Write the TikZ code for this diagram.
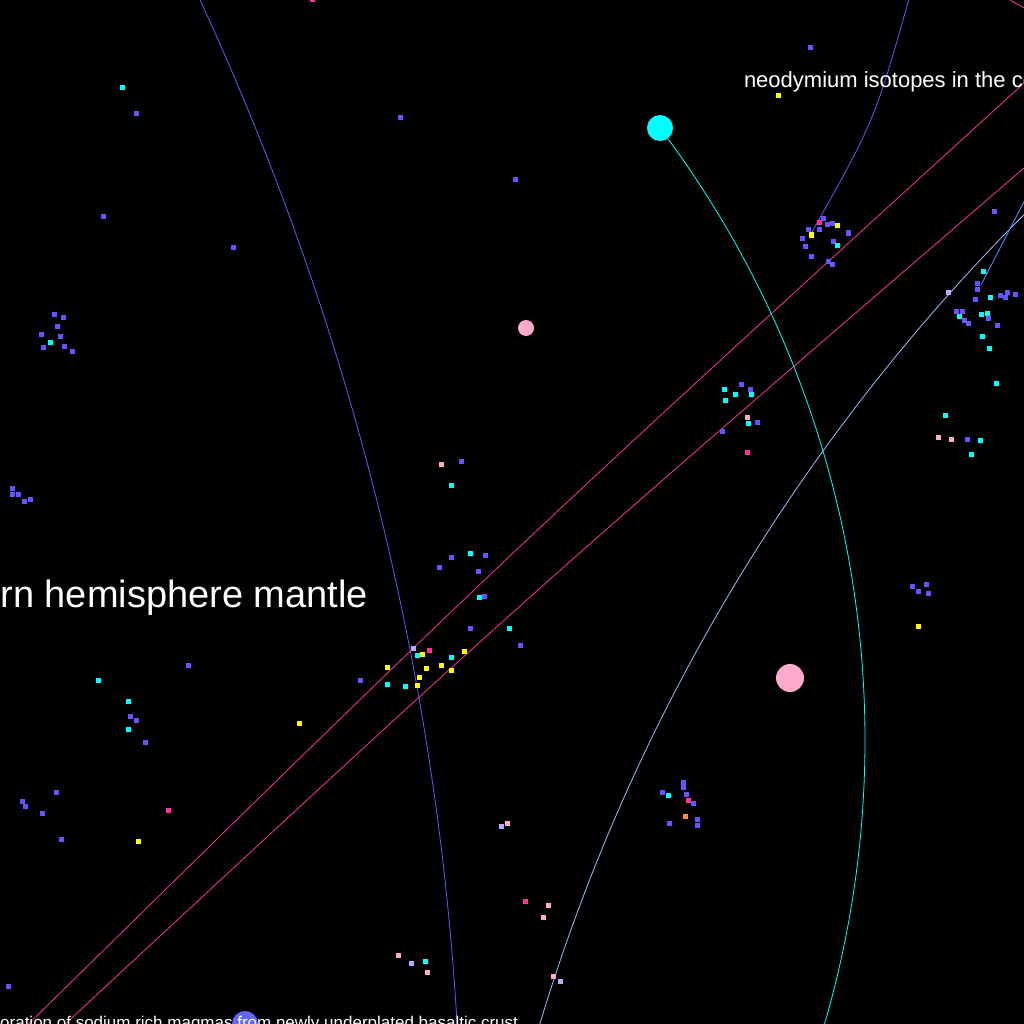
\documentclass[tikz,border=0pt]{standalone}
\usepackage{fontspec}
\setmainfont{Liberation Sans}
\usetikzlibrary{positioning}
\definecolor{dblue}{RGB}{102,85,255}
\definecolor{dcyan}{RGB}{0,255,255}
\definecolor{dyel}{RGB}{255,255,0}
\definecolor{dpink}{RGB}{255,170,204}
\definecolor{dhot}{RGB}{255,51,153}
\definecolor{dlav}{RGB}{187,170,255}
\definecolor{dorg}{RGB}{255,136,68}
\definecolor{dsky}{RGB}{150,190,255}
\definecolor{dazure}{RGB}{60,160,255}
\definecolor{dbig}{RGB}{100,100,255}
\tikzset{
  sq/.style={fill=#1, minimum size=5pt, inner sep=0pt, outer sep=0pt},
  hub/.style={circle, fill=#1, inner sep=0pt, outer sep=0pt},
  edge/.style={#1, line width=0.8pt},
  lbl/.style={text=white, inner sep=0pt, outer sep=0pt},
}

\begin{document}
\begin{tikzpicture}[x=1pt,y=-1pt]
  \useasboundingbox (0,0) rectangle (1024,1024);
  \fill[black] (0,0) rectangle (1024,1024);
  \clip (0,0) rectangle (1024,1024);

  % links
  \draw[edge=dblue] (-2369,1189) ++(-25.5:2831) arc[start angle=-25.5, end angle=-2.5, radius=2831];
  \draw[edge=dsky] (2394,1584) ++(-163.5:1937) arc[start angle=-163.5, end angle=-134, radius=1937];
  \draw[edge=dhot] (0,1052) .. controls (503,558) .. (1024,83);
  \draw[edge=dhot] (35,1052) .. controls (521,601) .. (1024,168);
  \draw[edge=dhot] (1010,0) -- (1026,9);
  \draw[edge=dblue] (912,-12) .. controls (875,120) .. (812,232);
  \draw[edge=dazure] (1030,190) -- (981,285);

  % hubs
  \node[hub=dcyan, minimum size=26pt] (hubNd) at (660,128) {};
  \node[hub=dpink, minimum size=16pt] (hubA) at (526,328) {};
  \node[hub=dpink, minimum size=28pt] (hubB) at (790,678) {};
  \node[hub=dbig, minimum size=26pt] (hubMg) at (245,1024) {};
  \draw[edge=dcyan] (-151,740) ++(-37.04:1016) arc[start angle=-37.04, end angle=18, radius=1016];

  % samples
  \foreach \x/\y/\c [count=\i] in {
      810/48/dblue, 122/88/dcyan, 136/114/dblue, 400/118/dblue, 778/96/dyel,
      515/180/dblue, 103/217/dblue, 233/247/dblue, 312/0/dhot,
      823/219/dblue, 819/223/dhot, 827/225/dblue, 832/224/dblue, 837/226/dyel,
      808/230/dblue, 819/230/dblue, 811/235/dyel, 802/238/dblue, 848/233/dblue,
      805/246/dblue, 833/241/dblue, 837/245/dcyan, 811/256/dblue, 828/261/dblue,
      832/264/dblue,
      994/212/dblue, 983/271/dcyan, 977/283/dblue, 977/289/dblue, 948/292/dlav,
      975/299/dblue, 990/297/dcyan, 1000/295/dblue, 1007/292/dblue, 1005/297/dblue,
      1015/294/dblue, 956/311/dblue, 962/311/dblue, 959/316/dcyan, 964/320/dblue,
      968/323/dblue, 981/314/dcyan, 987/313/dcyan, 988/318/dblue, 997/325/dblue,
      982/336/dcyan, 989/348/dcyan, 996/383/dcyan,
      54/314/dblue, 63/317/dblue, 57/326/dblue, 41/334/dblue, 60/336/dblue,
      50/342/dcyan, 43/347/dblue, 64/346/dblue, 72/351/dblue,
      741/384/dblue, 750/389/dblue, 724/389/dcyan, 735/394/dcyan, 751/394/dcyan,
      725/400/dcyan, 747/417/dpink, 748/423/dcyan, 757/422/dblue, 722/431/dblue,
      747/452/dhot,
      945/415/dcyan, 938/437/dpink, 951/439/dpink, 967/439/dblue, 980/440/dcyan,
      971/454/dcyan,
      12/488/dblue, 18/494/dblue, 12/494/dblue, 24/501/dblue, 30/499/dblue,
      441/464/dpink, 461/461/dblue, 451/485/dcyan, 470/553/dcyan, 485/555/dblue,
      451/557/dblue, 439/567/dblue, 478/571/dblue, 479/597/dcyan, 484/596/dblue,
      470/628/dblue, 509/628/dcyan, 520/645/dblue, 429/650/dhot, 464/651/dyel,
      413/648/dlav, 422/654/dyel, 417/655/dcyan, 451/657/dcyan, 387/667/dyel,
      426/668/dyel, 441/665/dyel, 451/670/dyel, 419/677/dyel, 387/684/dcyan,
      405/686/dcyan, 417/685/dyel, 360/680/dblue,
      188/665/dblue, 98/680/dcyan, 128/701/dcyan, 130/716/dblue, 136/720/dblue,
      128/729/dcyan, 145/742/dblue, 299/723/dyel,
      918/626/dyel, 912/586/dblue, 918/591/dblue, 926/584/dblue, 928/593/dblue,
      683/782/dblue, 683/787/dblue, 662/792/dblue, 668/795/dcyan, 686/794/dblue,
      688/800/dhot, 693/803/dblue, 685/816/dorg, 697/819/dblue, 697/825/dblue,
      669/823/dblue,
      22/801/dblue, 25/806/dblue, 56/792/dblue, 42/813/dblue, 61/839/dblue,
      168/810/dhot, 138/841/dyel, 501/826/dlav, 507/823/dpink,
      525/901/dhot, 548/905/dpink, 543/917/dpink,
      398/955/dpink, 411/963/dlav, 425/961/dcyan, 427/972/dpink,
      553/976/dpink, 560/981/dlav, 8/986/dblue}
    \node[sq=\c] (s\i) at (\x,\y) {};

  % labels
  \node[lbl, font=\fontsize{22}{26}\selectfont, anchor=base west] (tNd) at (744,87.5)
    {neodymium isotopes in the continental crust};
  \node[lbl, font=\fontsize{38}{44}\selectfont, anchor=base east] (tMantle) at (368,607)
    {Southern hemisphere mantle};
  \node[lbl, font=\fontsize{17}{20}\selectfont, anchor=base east] (tMagma) at (518,1028)
    {incorporation of sodium rich magmas from newly underplated basaltic crust};
\end{tikzpicture}
\end{document}
